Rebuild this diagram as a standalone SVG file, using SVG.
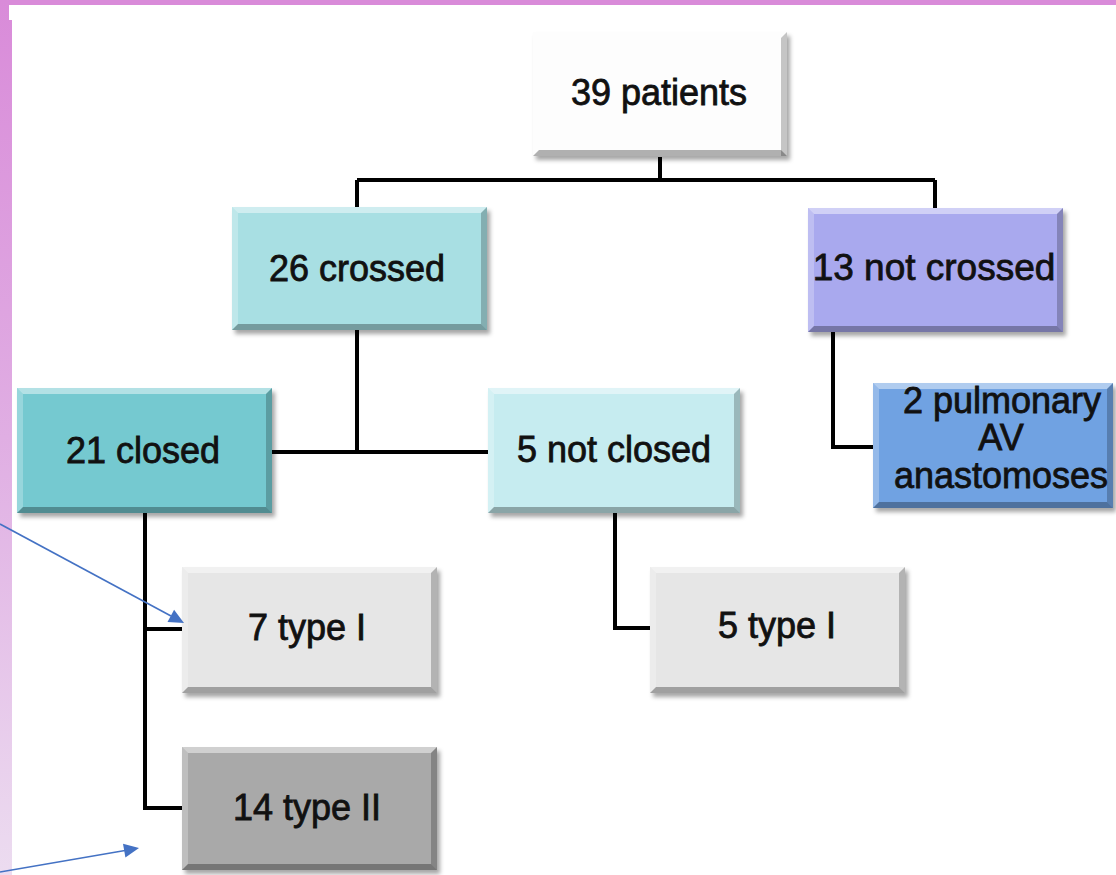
<svg xmlns="http://www.w3.org/2000/svg" width="1116" height="875" viewBox="0 0 1116 875">
<defs>
  <linearGradient id="band" x1="0" y1="0" x2="0" y2="1">
    <stop offset="0" stop-color="#d98bd9"/>
    <stop offset="0.5" stop-color="#e0aee3"/>
    <stop offset="1" stop-color="#ecdcf0"/>
  </linearGradient>
  <filter id="sh" x="-10%" y="-10%" width="125%" height="130%">
    <feDropShadow dx="3" dy="4" stdDeviation="2" flood-color="#000" flood-opacity="0.35"/>
  </filter>
  <style>
    .box{filter:url(#sh);}
    .hl{fill:#fff;opacity:0.45;}
    .hs{fill:#fff;opacity:0.25;}
    .dk{fill:#000;opacity:0.22;}
    .db{fill:#000;opacity:0.3;}
    .lbl{font-family:"Liberation Sans",Arial,sans-serif;font-size:36px;fill:#111;stroke:#111;stroke-width:0.8;text-anchor:middle;}
    .con{fill:none;stroke:#000;stroke-width:4;}
    .arr{fill:none;stroke:#4472c4;stroke-width:1.6;}
    .ahd{fill:#4472c4;stroke:none;}
  </style>
</defs>
<rect x="0" y="0" width="1116" height="875" fill="#fff"/>
<rect x="0" y="0" width="1116" height="5" fill="#d98bd9"/>
<path d="M0,0 H9 V20 H12 V875 H0 Z" fill="url(#band)"/>

<g id="connectors">
  <path class="con" d="M660,157 V180 M357,180 H935 M357,180 V207 M935,180 V208"/>
  <path class="con" d="M357,330 V452 M272,452 H488"/>
  <path class="con" d="M833,332 V447 H873"/>
  <path class="con" d="M145,513 V808 H182 M145,629 H182"/>
  <path class="con" d="M615,513 V628 H650"/>
</g>

<g id="n39">
  <rect class="box" x="533" y="32" width="254" height="124" fill="#fdfdfd"/>
  <path class="dk" d="M787,32 V156 H781 V38 Z"/>
  <path class="db" d="M533,156 H787 L781,150 H539 Z"/>
  <text class="lbl" x="659" y="105">39 patients</text>
</g>

<g id="n26">
  <rect class="box" x="232" y="207" width="255" height="123" fill="#a8dfe3"/>
  <path class="hl" d="M232,207 H487 L481,213 H238 Z"/>
  <path class="hs" d="M232,207 V330 L238,324 V213 Z"/>
  <path class="dk" d="M487,207 V330 L481,324 V213 Z"/>
  <path class="db" d="M232,330 H487 L481,324 H238 Z"/>
  <text class="lbl" x="357" y="281">26 crossed</text>
</g>

<g id="n13">
  <rect class="box" x="808" y="208" width="255" height="124" fill="#a9a9ee"/>
  <path class="hl" d="M808,208 H1063 L1057,214 H814 Z"/>
  <path class="hs" d="M808,208 V332 L814,326 V214 Z"/>
  <path class="dk" d="M1063,208 V332 L1057,326 V214 Z"/>
  <path class="db" d="M808,332 H1063 L1057,326 H814 Z"/>
  <text class="lbl" x="934" y="280" style="font-size:37px">13 not crossed</text>
</g>

<g id="n2">
  <rect class="box" x="873" y="383" width="240" height="125" fill="#6fa2e2"/>
  <path class="hl" d="M873,383 H1113 L1107,389 H879 Z"/>
  <path class="hs" d="M873,383 V508 L879,502 V389 Z"/>
  <path class="dk" d="M1113,383 V508 L1107,502 V389 Z"/>
  <path class="db" d="M873,508 H1113 L1107,502 H879 Z"/>
  <text class="lbl" x="1002" y="413">2 pulmonary</text>
  <text class="lbl" x="1001" y="450">AV</text>
  <text class="lbl" x="1001" y="488">anastomoses</text>
</g>

<g id="n21">
  <rect class="box" x="17" y="388" width="255" height="125" fill="#74c9d0"/>
  <path class="hl" d="M17,388 H272 L266,394 H23 Z"/>
  <path class="hs" d="M17,388 V513 L23,507 V394 Z"/>
  <path class="dk" d="M272,388 V513 L266,507 V394 Z"/>
  <path class="db" d="M17,513 H272 L266,507 H23 Z"/>
  <text class="lbl" x="143" y="463">21 closed</text>
</g>

<g id="n5nc">
  <rect class="box" x="488" y="388" width="252" height="125" fill="#c6ecf0"/>
  <path class="hl" d="M488,388 H740 L734,394 H494 Z"/>
  <path class="hs" d="M488,388 V513 L494,507 V394 Z"/>
  <path class="dk" d="M740,388 V513 L734,507 V394 Z"/>
  <path class="db" d="M488,513 H740 L734,507 H494 Z"/>
  <text class="lbl" x="614" y="462">5 not closed</text>
</g>

<g id="n7">
  <rect class="box" x="182" y="567" width="255" height="126" fill="#e6e6e6"/>
  <path class="hl" d="M182,567 H437 L431,573 H188 Z"/>
  <path class="hs" d="M182,567 V693 L188,687 V573 Z"/>
  <path class="dk" d="M437,567 V693 L431,687 V573 Z"/>
  <path class="db" d="M182,693 H437 L431,687 H188 Z"/>
  <text class="lbl" x="307" y="640">7 type I</text>
</g>

<g id="n5t">
  <rect class="box" x="650" y="567" width="255" height="126" fill="#e6e6e6"/>
  <path class="hl" d="M650,567 H905 L899,573 H656 Z"/>
  <path class="hs" d="M650,567 V693 L656,687 V573 Z"/>
  <path class="dk" d="M905,567 V693 L899,687 V573 Z"/>
  <path class="db" d="M650,693 H905 L899,687 H656 Z"/>
  <text class="lbl" x="777" y="638">5 type I</text>
</g>

<g id="n14">
  <rect class="box" x="182" y="747" width="255" height="123" fill="#a9a9a9"/>
  <path class="hl" d="M182,747 H437 L431,753 H188 Z"/>
  <path class="hs" d="M182,747 V870 L188,864 V753 Z"/>
  <path class="dk" d="M437,747 V870 L431,864 V753 Z"/>
  <path class="db" d="M182,870 H437 L431,864 H188 Z"/>
  <text class="lbl" x="307" y="820">14 type II</text>
</g>

<g id="arrows">
  <line class="arr" x1="0" y1="524" x2="171" y2="616"/>
  <polygon class="ahd" points="184,623 167.5,622.1 174.1,609.7"/>
  <line class="arr" x1="0" y1="872" x2="125" y2="850.5"/>
  <polygon class="ahd" points="139,848 125.4,857.5 123,843.7"/>
</g>
</svg>
